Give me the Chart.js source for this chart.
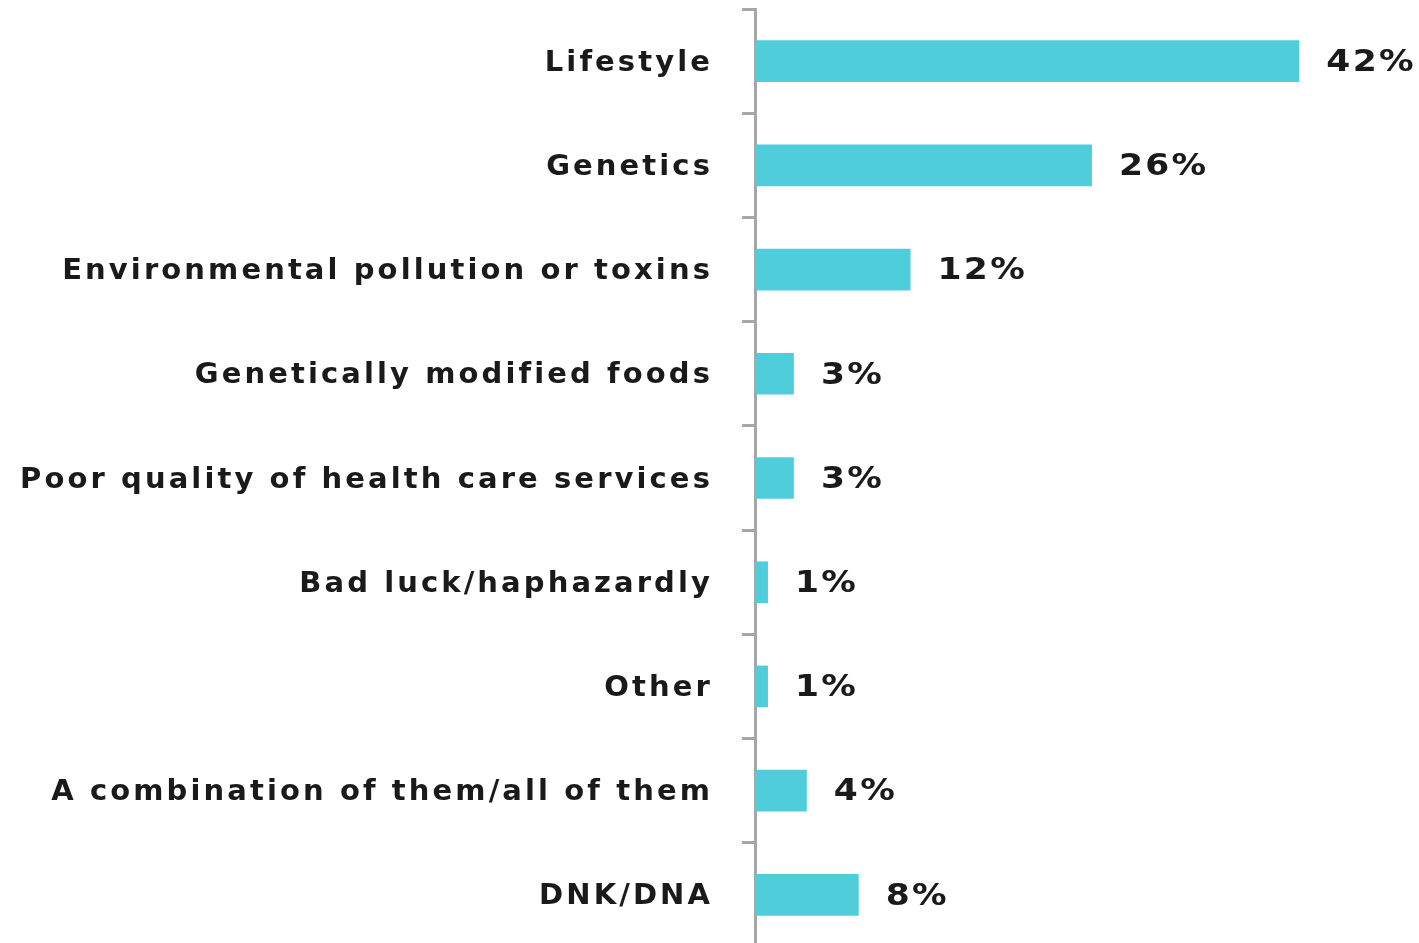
<!DOCTYPE html>
<html>
<head>
<meta charset="utf-8">
<script src="https://cdn.jsdelivr.net/npm/chart.js@4"></script>
<style>
  html, body { margin: 0; padding: 0; background: #fff; overflow: hidden; }
  canvas { display: block; }
</style>
</head>
<body>
<canvas id="causeChart" width="1419" height="947"></canvas>
<script>
const categories = [
    'Lifestyle',
    'Genetics',
    'Environmental pollution or toxins',
    'Genetically modified foods',
    'Poor quality of health care services',
    'Bad luck/haphazardly',
    'Other',
    'A combination of them/all of them',
    'DNK/DNA'
];
const shares = [42, 26, 12, 3, 3, 1, 1, 4, 8];

const colors = {
    bar: '#50cddb',
    axis: '#a6a6a6',
    text: '#1a1a1a'
};
const labelFont = { family: "'DejaVu Sans', sans-serif", size: 29, weight: 'bold' };

// value labels to the right of each bar (slightly stretched wide glyphs)
const valueLabels = {
    id: 'valueLabels',
    afterDatasetsDraw(chart) {
        const ctx = chart.ctx;
        const meta = chart.getDatasetMeta(0);
        const stretch = 1.15;
        ctx.save();
        ctx.letterSpacing = '2px';
        ctx.font = `bold 30px ${labelFont.family}`;
        ctx.fillStyle = colors.text;
        ctx.textAlign = 'left';
        ctx.textBaseline = 'middle';
        meta.data.forEach((bar, i) => {
            ctx.save();
            ctx.translate(bar.x + 27, bar.y + 2);
            ctx.scale(stretch, 1);
            ctx.fillText(shares[i] + '%', 0, 0);
            ctx.restore();
        });
        ctx.restore();
    }
};

// wide letter spacing for the axis labels, like the original
const spacing = {
    id: 'spacing',
    beforeDraw(chart) { chart.ctx.letterSpacing = '3.1px'; },
    beforeLayout(chart) { chart.ctx.letterSpacing = '3.1px'; }
};

new Chart(document.getElementById('causeChart').getContext('2d'), {
    type: 'bar',
    data: {
        labels: categories,
        datasets: [{
            data: shares,
            backgroundColor: colors.bar,
            borderWidth: 0,
            categoryPercentage: 1,
            barPercentage: 0.4
        }]
    },
    options: {
        indexAxis: 'y',
        responsive: false,
        animation: false,
        devicePixelRatio: 1,
        layout: { padding: { top: 9, right: 16, left: 0, bottom: 0 } },
        plugins: {
            legend: { display: false },
            tooltip: { enabled: false }
        },
        scales: {
            x: { display: false, min: 0, max: 50 },
            y: {
                afterFit(scale) {
                    scale.width = 755;
                    scale.paddingTop = 0;
                    scale.paddingBottom = 0;
                },
                border: { display: true, color: colors.axis, width: 3 },
                grid: {
                    display: true,
                    drawOnChartArea: false,
                    drawTicks: true,
                    tickLength: 13,
                    tickColor: colors.axis,
                    lineWidth: 3
                },
                ticks: {
                    color: colors.text,
                    font: labelFont,
                    padding: 29,
                    labelOffset: 2
                }
            }
        }
    },
    plugins: [spacing, valueLabels]
});
</script>
</body>
</html>
